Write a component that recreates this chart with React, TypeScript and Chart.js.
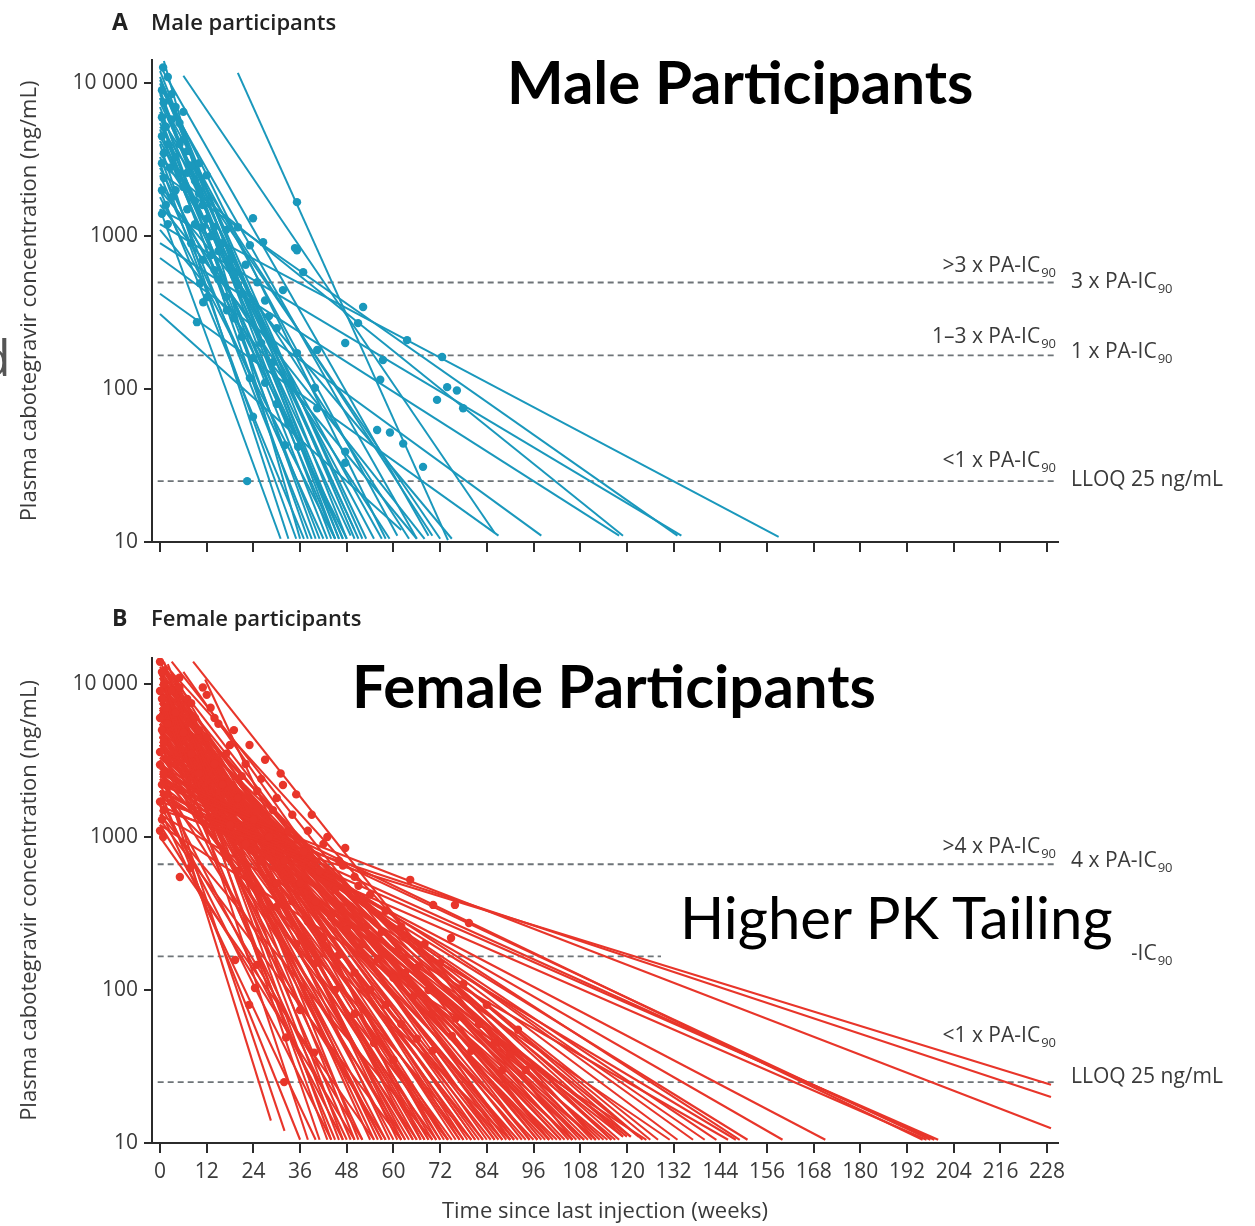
import React, { useEffect, useRef } from 'react';
import { Chart, registerables } from 'chart.js';
Chart.register(...registerables);

const FONT = "'Open Sans', 'DejaVu Sans', sans-serif";

// ---------- data ----------
const xTickValues = [0, 12, 24, 36, 48, 60, 72, 84, 96, 108, 120, 132, 144, 156, 168, 180, 192, 204, 216, 228];
const yTickValues = [10, 100, 1000, 10000];

// each participant line: [startWeek, startConc, endWeek, endConc]
const maleLines: number[][] = [
  [0, 1500, 159, 10.8], [0, 2600, 133, 11], [0, 1200, 134, 11], [0, 3000, 119, 11],
  [0, 900, 118, 11], [0, 720, 98, 11], [20, 11700, 74, 10.3], [1, 14000, 36, 10.5],
  [6, 11200, 86, 11.5], [0, 420, 87, 11], [0, 310, 62, 12], [0, 6000, 70, 11],
  [0, 3500, 64, 10.5], [0, 8000, 61, 11], [0, 2000, 75, 10.5], [0, 1100, 66, 10.5],
  [0, 4500, 55, 10.5], [0, 9000, 44, 10.5], [0, 7000, 40, 10.5], [1, 5000, 38, 10.5],
  [0, 12000, 48, 10.5], [0, 4000, 33, 10.5], [0, 3000, 35, 10.5], [2, 6000, 46, 10.5],
  [0, 2500, 42, 10.5], [0, 8000, 51, 10.5], [0, 10000, 52, 10.5], [1, 3800, 47, 10.5],
  [0, 5500, 49, 11], [0, 2000, 37, 10.5], [0, 1500, 31, 10.5], [0, 6500, 50, 12],
  [3, 7500, 45, 10.5], [0, 1800, 45, 10.5], [0, 4200, 57, 10.5], [0, 2200, 59, 10.5],
  [0, 9500, 66, 10.5], [0, 13000, 69, 11],
  [0, 11000, 46, 10.5], [1, 9000, 50, 10.5], [0, 6000, 43, 10.5], [0, 7500, 53, 10.5],
  [0, 5000, 41, 10.5], [2, 4000, 45, 10.5], [0, 3300, 39, 10.5], [0, 10500, 58, 10.5],
  [0, 2800, 48, 10.5], [0, 8500, 47, 10.5], [0, 1600, 68, 10.5], [0, 5200, 72, 10.5],
];

const maleDots: number[][] = [
  [0.8, 12700], [9.5, 274], [22.4, 25], [33.4, 111], [39.8, 102], [40.4, 75], [32.1, 43], [35.5, 42],
  [47.6, 200], [47.6, 39], [47.6, 33], [52.2, 344], [50.9, 270], [57.3, 155], [56.6, 115], [63.5, 209],
  [72.5, 162], [73.8, 103], [76.3, 98], [71.2, 85], [77.9, 75], [55.8, 54], [59.1, 52], [62.5, 44],
  [67.6, 31], [12.1, 399], [11.1, 370], [23.9, 66], [23.1, 118], [35.2, 172], [40.4, 180], [17.2, 328],
  [35.2, 1670], [35.2, 809], [36.8, 582], [26.5, 914], [31.6, 444], [23.9, 1310], [20, 1145], [23.1, 873],
  [34.7, 836], [10.3, 493],
  [0.5, 9000], [1, 7500], [0.5, 6000], [1.5, 5200], [0.5, 4500], [2, 4000], [1, 3500], [0.5, 3000],
  [2.5, 2800], [1, 2400], [0.5, 2000], [3, 1800], [1.5, 1600], [0.5, 1400], [2, 1200], [4, 7000],
  [5, 5500], [6, 4300], [4, 3300], [7, 3600], [5, 2600], [8, 2900], [6, 2100], [9, 2300],
  [10, 1900], [7, 1500], [11, 1600], [12, 1300], [9, 1200], [13, 1000], [14, 1150], [8, 900],
  [15, 800], [16, 900], [11, 700], [3, 8500], [2, 11000], [6, 6500], [4, 2000], [10, 3000],
  [12, 2500], [17, 1100], [18, 700], [14, 600], [19, 560], [20, 480], [21, 420], [22, 650],
  [25, 500], [28, 300], [27, 380], [30, 250], [26, 200], [29, 150],
  [3, 5800], [5, 4000], [7, 2600], [9, 1700], [11, 1150], [13, 750], [15, 520], [17, 400],
  [19, 290], [21, 220], [24, 160], [27, 110], [30, 80], [33, 60],
];

const femaleLines: number[][] = [
  [0, 1500, 229, 24], [0, 1700, 229, 20], [0, 2200, 229, 12.5], [0, 1800, 200, 10.5],
  [0, 2000, 199, 10.5], [0, 2400, 198, 10.5], [0, 1600, 197, 10.5], [0, 2600, 196, 10.5],
  [0, 2000, 171, 10.5], [0, 2500, 151, 10.5], [0, 3000, 149, 10.5], [0, 1400, 146, 10.5],
  [0, 2800, 143, 10.5], [0, 3500, 133, 10.5], [0, 2000, 131, 10.5], [0, 4000, 128, 10.5],
  [0, 1200, 125, 10.5],
  [0, 14500, 112, 10.5], [8.5, 14000, 106, 10.5], [3, 14000, 100, 10.5], [11.6, 10700, 67, 10.5],
  [1, 13000, 95, 10.5], [6, 12000, 90, 10.5],
  [0, 3000, 28.5, 14], [1, 2600, 32, 12], [0, 9000, 38, 10.5], [0, 12000, 41, 10.5],
  [2, 7000, 43, 10.5], [0, 5500, 45, 10.5], [1, 14000, 47, 10.5], [0, 4000, 48, 10.5],
  [3, 9500, 50, 10.5], [0, 6500, 52, 10.5],
  [0, 11000, 54, 10.5], [2, 8500, 56, 10.5], [0, 4500, 57, 10.5], [1, 13000, 59, 10.5],
  [0, 7500, 60, 10.5], [4, 10000, 62, 10.5], [0, 3500, 63, 10.5], [0, 6000, 64, 10.5],
  [1, 9000, 66, 10.5], [0, 5000, 68, 10.5], [2, 12000, 69, 10.5], [0, 8000, 70, 10.5],
  [0, 3000, 71, 10.5], [1, 6500, 72, 10.5], [0, 10000, 73, 10.5], [3, 7000, 74, 10.5],
  [0, 4200, 75, 10.5], [0, 9000, 76, 10.5], [1, 5500, 77, 10.5], [0, 11500, 78, 10.5],
  [2, 8000, 79, 10.5], [0, 6000, 80, 10.5],
  [0, 7000, 82, 10.5], [0, 4500, 83, 10.5], [1, 9500, 84, 10.5], [0, 5500, 85, 10.5],
  [0, 13000, 86, 10.5], [2, 6000, 87, 10.5], [0, 3800, 88, 10.5], [0, 8000, 89, 10.5],
  [1, 7000, 90, 10.5], [0, 5000, 92, 10.5], [0, 10000, 93, 10.5], [3, 6500, 95, 10.5],
  [0, 4000, 96, 10.5], [0, 9000, 98, 10.5], [1, 5000, 99, 10.5], [0, 7500, 101, 10.5],
  [0, 3500, 102, 10.5], [0, 6000, 104, 10.5], [0, 4500, 106, 10.5],
  [0, 8000, 108, 10.5], [0, 3000, 109, 10.5], [1, 5500, 110, 10.5], [0, 4000, 112, 10.5],
  [0, 6500, 113, 10.5], [0, 2800, 115, 10.5], [0, 5000, 116, 10.5], [0, 3500, 117, 10.5],
  [0, 4500, 118, 10.5], [0, 2500, 119, 11], [0, 6000, 119, 11], [0, 3000, 120, 11],
  [0, 2200, 121, 11],
  [0, 12500, 44, 10.5], [1, 10000, 46, 10.5], [0, 8000, 49, 10.5], [2, 13500, 51, 10.5],
  [0, 9500, 55, 10.5], [0, 7000, 58, 10.5], [3, 12000, 61, 10.5], [0, 5000, 62, 10.5],
  [0, 14000, 65, 10.5], [1, 8500, 67, 10.5], [0, 6500, 69, 10.5], [4, 11000, 71, 10.5],
  [0, 4800, 74, 10.5], [0, 12500, 77, 10.5], [2, 7000, 81, 10.5], [0, 9000, 83, 10.5],
  [0, 11000, 88, 10.5], [0, 6500, 91, 10.5], [0, 12000, 97, 10.5], [1, 8500, 100, 10.5],
  [0, 5500, 103, 10.5], [0, 10000, 105, 10.5], [0, 7000, 107, 10.5], [0, 9000, 111, 10.5],
  [0, 4000, 114, 10.5], [0, 7500, 116, 10.5], [0, 5200, 121, 11], [0, 3800, 123, 11],
  [0, 2000, 36, 10.5], [0, 1500, 40, 10.5], [0, 1800, 44, 10.5], [0, 1200, 50, 10.5],
  [0, 1000, 55, 10.5], [0, 1300, 62, 10.5], [0, 2400, 58, 10.5], [0, 3200, 66, 10.5],
  [0, 2600, 80, 10.5], [0, 1900, 90, 10.5], [0, 3300, 137, 10.5], [0, 2900, 140, 10.5],
  [0, 1900, 148, 10.5], [0, 2300, 160, 10.5], [0, 4500, 126, 10.5], [0, 5500, 124, 10.5],
  [0, 6800, 57, 10.5], [1, 9800, 63, 10.5], [0, 5300, 65, 10.5], [0, 7800, 68, 10.5],
  [2, 10500, 72, 10.5], [0, 4600, 78, 10.5], [0, 8800, 81, 10.5], [1, 6200, 86, 10.5],
  [0, 11500, 91, 10.5], [0, 5800, 94, 10.5], [0, 8200, 97, 10.5], [0, 4200, 100, 10.5],
  [0, 6800, 103, 10.5], [0, 3300, 106, 10.5], [0, 5800, 109, 10.5], [0, 2600, 112, 10.5],
  [0, 1600, 52, 10.5], [0, 2200, 47, 10.5], [0, 1400, 70, 10.5], [0, 2700, 74, 10.5],
];

const femaleDots: number[][] = [
  [0, 14000], [0.5, 12000], [1, 10000], [0, 9000], [0.5, 8000], [1.5, 7000], [0, 6000], [2, 5500],
  [0.5, 5000], [1, 4200], [0, 3600], [2, 3200], [0, 2970], [1, 2600], [0.5, 2200], [1.5, 1900],
  [0, 1700], [1, 1500], [0.5, 1300], [0, 1100], [0.8, 1000], [5.1, 548], [7.7, 627],
  [3, 9000], [4, 6500], [5, 11000], [6, 4800], [7, 8000], [8, 3500], [9, 6000], [10, 2600],
  [11, 9500], [12, 4500], [13, 7000], [14, 3000], [15, 5500], [16, 2200], [18, 4000], [20, 1800],
  [22, 3000], [24, 1300], [26, 2400], [28, 1000], [30, 1800], [32, 700], [34, 1400], [36, 500],
  [38, 1100], [40, 380], [42, 900], [44, 300], [46, 700], [48, 250], [50, 550], [52, 200],
  [54, 420], [56, 160], [58, 330], [60, 120], [62, 260], [65, 90], [68, 200], [70, 70],
  [72, 150], [75, 50], [78, 110], [80, 40], [84, 80], [88, 30], [92, 55],
  [20, 600], [25, 450], [30, 350], [35, 200], [40, 150], [45, 100], [50, 70], [55, 45], [60, 35],
  [31.6, 2190], [47.6, 847], [64.3, 525], [75.8, 360], [70.2, 360], [79.4, 274], [74.8, 219],
  [19.3, 157], [22.9, 80], [24.9, 146], [24.4, 103], [31.9, 25], [36, 74], [39.6, 39], [32.4, 49],
  [5, 9500], [8, 7500], [10, 5000], [12, 8500], [14, 6000], [17, 3500], [19, 5000], [21, 2500],
  [23, 4000], [25, 2000], [27, 3200], [29, 1500], [31, 2600], [33, 1100], [35, 1900], [37, 800],
  [39, 1400], [41, 600], [43, 1000], [45, 450], [47, 650], [49, 350], [51, 480], [53, 260],
  [57, 240], [61, 180], [63, 130], [66, 140], [69, 100], [73, 85], [76, 65], [82, 60],
  [86, 45], [90, 38], [94, 30], [18, 1200], [22, 900], [26, 700], [30, 500], [34, 380],
  [38, 280], [42, 220], [46, 170], [50, 130], [54, 100], [58, 80], [62, 60], [66, 48], [70, 40],
];

const maleThresholds = [498, 166, 25];
const femaleThresholds = [664, 166, 25];
const maleAboveLabels = ['>3 x PA-IC', '1–3 x PA-IC', '<1 x PA-IC'];
const maleRightLabels = ['3 x PA-IC', '1 x PA-IC', 'LLOQ 25 ng/mL'];
const femaleAboveLabels = ['>4 x PA-IC', '1–4 x PA-IC', '<1 x PA-IC'];
const femaleRightLabels = ['4 x PA-IC', '1 x PA-IC', 'LLOQ 25 ng/mL'];
const aboveSubs = ['90', '90', '90'];
const rightSubs = ['90', '90', ''];

const yTitle = 'Plasma cabotegravir concentration (ng/mL)';
const xTitle = 'Time since last injection (weeks)';

// ---------- styling / layout ----------
const TEAL = '#1a98bc';
const RED = '#e8352a';
const AXIS = '#2b2b2b';
const TEXT = '#3a3a3a';
const CANVAS_W = 1255;
const PLOT_LEFT = 152;
const PLOT_RIGHT = 1058;
const X_MIN = -2.06;
const X_MAX = 230.8;

type PanelProps = {
  lines: number[][];
  dots: number[][];
  color: string;
  lineWidth: number;
  thresholds: number[];
  aboveLabels: string[];
  rightLabels: string[];
  aboveOffsets: number[];
  rightOffsets: number[];
  height: number;
  plotTop: number;
  plotBottom: number;
  yMax: number;
  showXLabels: boolean;
  showXTitle: boolean;
  top: number;
};

function drawSubText(ctx: CanvasRenderingContext2D, x: number, y: number, main: string, sub: string, align: 'left' | 'right') {
  ctx.font = `21px ${FONT}`;
  const wMain = ctx.measureText(main).width;
  ctx.font = `13px ${FONT}`;
  const wSub = sub ? ctx.measureText(sub).width + 1 : 0;
  const x0 = align === 'right' ? x - wMain - wSub : x;
  ctx.font = `21px ${FONT}`;
  ctx.fillText(main, x0, y);
  if (sub) {
    ctx.font = `13px ${FONT}`;
    ctx.fillText(sub, x0 + wMain + 1, y + 7);
  }
}

function Panel(p: PanelProps) {
  const ref = useRef<HTMLCanvasElement>(null);
  useEffect(() => {
    if (!ref.current) return;
    const datasets: any[] = [];
    p.thresholds.forEach((t) => {
      datasets.push({
        type: 'line',
        data: [{ x: -0.6, y: t }, { x: 230.3, y: t }],
        borderColor: '#6e7478',
        borderWidth: 1.8,
        borderDash: [6, 4],
        pointRadius: 0,
        order: 3,
      });
    });
    p.lines.forEach((l) => {
      datasets.push({
        type: 'line',
        data: [{ x: l[0], y: l[1] }, { x: l[2], y: l[3] }],
        borderColor: p.color,
        borderWidth: p.lineWidth,
        pointRadius: 0,
        order: 2,
      });
    });
    datasets.push({
      type: 'scatter',
      data: p.dots.map((d) => ({ x: d[0], y: d[1] })),
      backgroundColor: p.color,
      borderColor: p.color,
      pointRadius: 4.2,
      borderWidth: 0,
      order: 1,
    });

    const labelPlugin = {
      id: 'thresholdLabels',
      afterDraw(chart: any) {
        const ctx = chart.ctx as CanvasRenderingContext2D;
        const ys = chart.scales.y;
        ctx.save();
        ctx.fillStyle = TEXT;
        ctx.textBaseline = 'middle';
        ctx.textAlign = 'left';
        p.thresholds.forEach((t, i) => {
          const y = ys.getPixelForValue(t);
          drawSubText(ctx, 1056, y + p.aboveOffsets[i], p.aboveLabels[i], aboveSubs[i], 'right');
          drawSubText(ctx, 1071, y + p.rightOffsets[i], p.rightLabels[i], rightSubs[i], 'left');
        });
        ctx.restore();
      },
    };

    const chart = new Chart(ref.current, {
      type: 'line',
      data: { datasets },
      plugins: [labelPlugin],
      options: {
        animation: false,
        responsive: false,
        devicePixelRatio: 1,
        events: [],
        layout: { padding: { left: 0, right: CANVAS_W - PLOT_RIGHT, top: p.plotTop, bottom: 0 } },
        plugins: { legend: { display: false }, tooltip: { enabled: false } },
        scales: {
          x: {
            type: 'linear',
            min: X_MIN,
            max: X_MAX,
            afterBuildTicks: (s: any) => {
              s.ticks = xTickValues.map((v) => ({ value: v }));
            },
            afterFit: (s: any) => {
              s.height = p.height - p.plotBottom;
            },
            grid: { display: true, drawOnChartArea: false, drawTicks: true, tickLength: 10, color: AXIS, lineWidth: 2 },
            border: { display: true, color: AXIS, width: 2 },
            ticks: {
              autoSkip: false,
              maxRotation: 0,
              color: p.showXLabels ? TEXT : 'rgba(0,0,0,0)',
              font: { family: FONT, size: 21 },
              padding: 6,
              callback: (v: any) => String(v),
            },
            title: {
              display: p.showXTitle,
              text: xTitle,
              color: TEXT,
              font: { family: FONT, size: 22 },
              padding: { top: 0, bottom: 1 },
            },
          },
          y: {
            type: 'logarithmic',
            min: 10,
            max: p.yMax,
            afterBuildTicks: (s: any) => {
              s.ticks = yTickValues.map((v) => ({ value: v }));
            },
            afterFit: (s: any) => {
              s.width = PLOT_LEFT;
            },
            grid: { display: true, drawOnChartArea: false, drawTicks: true, tickLength: 8, color: AXIS, lineWidth: 2 },
            border: { display: true, color: AXIS, width: 2 },
            ticks: {
              color: TEXT,
              font: { family: FONT, size: 21 },
              padding: 6,
              callback: (v: any) => (Number(v) === 10000 ? '10 000' : String(v)),
            },
            title: {
              display: true,
              text: yTitle,
              color: TEXT,
              font: { family: FONT, size: 22 },
              padding: { top: 17, bottom: 0 },
            },
          },
        },
      } as any,
    });
    return () => chart.destroy();
  }, []);
  return (
    <canvas
      ref={ref}
      width={CANVAS_W}
      height={p.height}
      style={{ position: 'absolute', left: 0, top: p.top, width: CANVAS_W, height: p.height }}
    />
  );
}

const overlay: React.CSSProperties = { position: 'absolute', whiteSpace: 'nowrap', zIndex: 2 };

export default function App() {
  return (
    <div style={{ position: 'absolute', left: 0, top: 0, width: 1255, height: 1226, background: '#fff', overflow: 'hidden' }}>
      <Panel
        lines={maleLines}
        dots={maleDots}
        color={TEAL}
        lineWidth={2}
        thresholds={maleThresholds}
        aboveLabels={maleAboveLabels}
        rightLabels={maleRightLabels}
        aboveOffsets={[-16, -18, -20]}
        rightOffsets={[0, -3, -1]}
        height={600}
        plotTop={60}
        plotBottom={542}
        yMax={14200}
        showXLabels={false}
        showXTitle={false}
        top={0}
      />
      <Panel
        lines={femaleLines}
        dots={femaleDots}
        color={RED}
        lineWidth={2.1}
        thresholds={femaleThresholds}
        aboveLabels={femaleAboveLabels}
        rightLabels={femaleRightLabels}
        aboveOffsets={[-17, -20, -46]}
        rightOffsets={[-3, -2, -5]}
        height={626}
        plotTop={58}
        plotBottom={543}
        yMax={14800}
        showXLabels={true}
        showXTitle={true}
        top={600}
      />

      {/* panel headings */}
      <div style={{ ...overlay, left: 112, top: 5, fontFamily: FONT, fontWeight: 700, fontSize: 23, color: '#222' }}>A</div>
      <div style={{ ...overlay, left: 151, top: 6, fontFamily: FONT, fontWeight: 600, fontSize: 22, color: '#222' }}>Male participants</div>
      <div style={{ ...overlay, left: 112, top: 601, fontFamily: FONT, fontWeight: 700, fontSize: 23, color: '#222' }}>B</div>
      <div style={{ ...overlay, left: 151, top: 602, fontFamily: FONT, fontWeight: 600, fontSize: 22, color: '#222' }}>Female participants</div>

      {/* slide annotations */}
      <div style={{ ...overlay, left: 507, top: 51, fontFamily: 'Lato, sans-serif', fontWeight: 700, fontSize: 60, lineHeight: '60px', color: '#000' }}>
        Male Participants
      </div>
      <div style={{ ...overlay, left: 352, top: 655, fontFamily: 'Lato, sans-serif', fontWeight: 700, fontSize: 60, lineHeight: '60px', color: '#000' }}>
        Female Participants
      </div>
      <div style={{ ...overlay, left: 661, top: 872, width: 471, height: 89, background: '#fff' }} />
      <div style={{ ...overlay, left: 680, top: 888, fontFamily: 'Lato, sans-serif', fontWeight: 400, fontSize: 58, lineHeight: '58px', color: '#000', zIndex: 3 }}>
        Higher PK Tailing
      </div>
      <div style={{ ...overlay, left: -20, top: 332, fontFamily: FONT, fontWeight: 400, fontSize: 50, lineHeight: '50px', color: '#555' }}>d</div>
    </div>
  );
}
